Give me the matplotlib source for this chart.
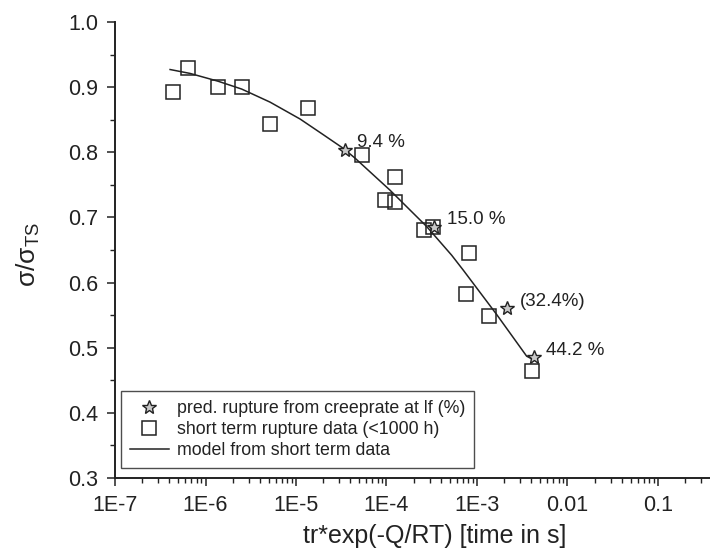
"""Normalised stress vs temperature-compensated rupture time."""

import matplotlib

matplotlib.use("Agg")
import matplotlib.pyplot as plt  # noqa: E402
from matplotlib.ticker import FixedLocator, LogLocator, MultipleLocator, NullFormatter  # noqa: E402

# short term rupture data (<1000 h)
short_x = [4.35e-7, 6.45e-7, 1.38e-6, 2.55e-6, 5.16e-6, 1.37e-5, 5.4e-5, 1.24e-4,
           9.6e-5, 1.24e-4, 2.62e-4, 3.27e-4, 8.26e-4, 7.65e-4, 1.36e-3, 4.1e-3]
short_y = [0.893, 0.929, 0.900, 0.900, 0.843, 0.868, 0.796, 0.762,
           0.727, 0.724, 0.680, 0.685, 0.645, 0.582, 0.548, 0.464]

# predicted rupture from creep rate at lf
pred_x = [3.47e-5, 3.39e-4, 2.17e-3, 4.22e-3]
pred_y = [0.804, 0.686, 0.561, 0.485]
pred_labels = ["9.4 %", "15.0 %", "(32.4%)", "44.2 %"]

# model from short term data
model_x = [4.06e-7, 6.75e-7, 1.38e-6, 2.51e-6, 5.16e-6, 1.11e-5, 2.0e-5,
           3.33e-5, 4.49e-5, 1.09e-4, 2.78e-4, 5.25e-4, 7.06e-4, 1.65e-3,
           3.54e-3, 4.27e-3]
model_y = [0.927, 0.921, 0.909, 0.897, 0.877, 0.851, 0.827,
           0.806, 0.791, 0.742, 0.686, 0.642, 0.619, 0.551,
           0.487, 0.481]

x_ticks = [1e-7, 1e-6, 1e-5, 1e-4, 1e-3, 1e-2, 1e-1, 1.0]
x_tick_labels = ["1E-7", "1E-6", "1E-5", "1E-4", "1E-3", "0.01", "0.1", "1"]

ink = "#222222"
plt.rcParams["font.family"] = ["Liberation Sans", "DejaVu Sans"]
plt.rcParams["mathtext.fontset"] = "custom"
plt.rcParams["mathtext.rm"] = "Liberation Sans"
plt.rcParams["mathtext.it"] = "Liberation Sans"

fig = plt.figure(figsize=(7.10, 5.49), dpi=100)
ax = fig.add_axes([0.162, 0.1293, 0.838, 0.8307])

ax.plot(pred_x, pred_y, linestyle="none", marker="*", markersize=10,
        markerfacecolor="#c8c8c8", markeredgecolor=ink, markeredgewidth=1.0,
        label="pred. rupture from creeprate at lf (%)", zorder=4)
ax.plot(short_x, short_y, linestyle="none", marker="s", markersize=9.5,
        markerfacecolor="none", markeredgecolor=ink, markeredgewidth=1.1,
        label="short term rupture data (<1000 h)", zorder=3)
ax.plot(model_x, model_y, color=ink, linewidth=1.1,
        label="model from short term data", zorder=2)

for x, y, text in zip(pred_x, pred_y, pred_labels):
    ax.annotate(text, (x, y), xytext=(9, 5), textcoords="offset points",
                ha="left", va="center", fontsize=13.5, color=ink)

ax.set_xscale("log")
ax.set_xlim(1e-7, 0.376)
ax.set_ylim(0.3, 1.0)

ax.xaxis.set_major_locator(FixedLocator(x_ticks))
ax.set_xticklabels(x_tick_labels)
ax.xaxis.set_minor_locator(LogLocator(base=10, subs=range(2, 10), numticks=20))
ax.xaxis.set_minor_formatter(NullFormatter())
ax.yaxis.set_major_locator(MultipleLocator(0.1))
ax.yaxis.set_minor_locator(MultipleLocator(0.05))
ax.yaxis.set_major_formatter(plt.FormatStrFormatter("%.1f"))

for side in ("top", "right"):
    ax.spines[side].set_visible(False)
for side in ("left", "bottom"):
    ax.spines[side].set_color(ink)
    ax.spines[side].set_linewidth(1.4)

ax.tick_params(which="major", direction="out", length=6, width=1.1,
               labelsize=15.5, colors=ink, pad=6)
ax.tick_params(which="minor", direction="out", length=3.5, width=1.0, colors=ink)

ax.set_xlabel("tr*exp(-Q/RT) [time in s]", fontsize=18, color=ink)
ax.set_ylabel(r"$\mathrm{\sigma/\sigma_{TS}}$", fontsize=19, color=ink)
ax.xaxis.set_label_coords(0.538, -0.1)
ax.yaxis.set_label_coords(-0.123, 0.49)

leg = ax.legend(loc="lower left", bbox_to_anchor=(0.01, 0.022), fontsize=12.8,
                frameon=True, fancybox=False, borderpad=0.5, labelspacing=0.22,
                handlelength=2.2, handletextpad=0.45, borderaxespad=0.0)
leg.get_frame().set_edgecolor(ink)
leg.get_frame().set_linewidth(1.0)
for text in leg.get_texts():
    text.set_color(ink)

fig.savefig("out.png", dpi=100)
plt.close(fig)
